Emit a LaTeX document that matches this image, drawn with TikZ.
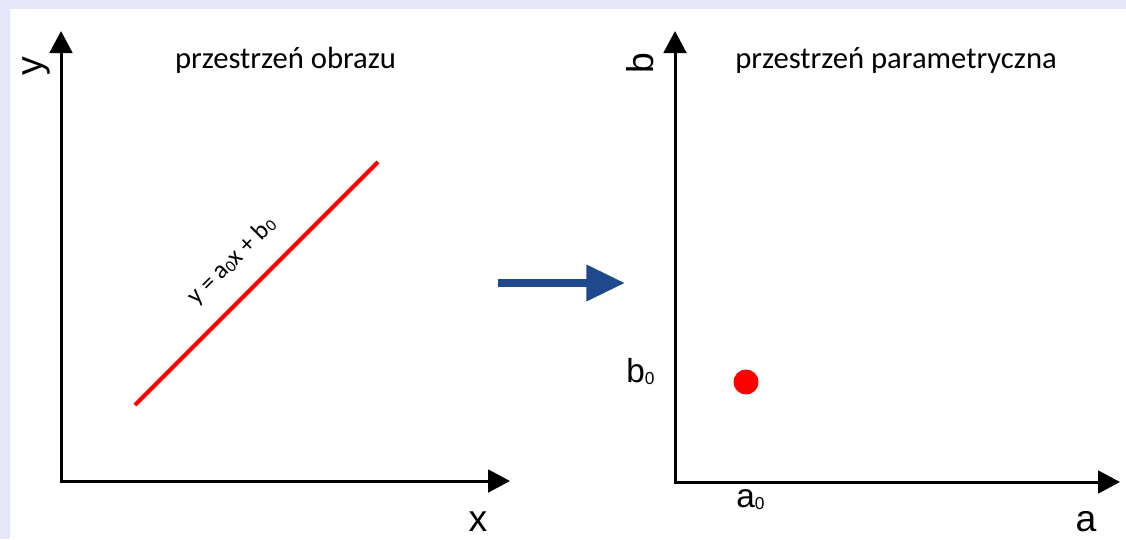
\documentclass[tikz,border=0pt]{standalone}
\usepackage{fontspec}
\setmainfont{Carlito}
\newfontfamily\arialf{Liberation Sans}
\usetikzlibrary{arrows.meta}
\definecolor{lav}{RGB}{230,230,250}
\definecolor{myblue}{RGB}{31,73,140}
\definecolor{myred}{RGB}{255,0,0}
\newcommand{\lowsub}[1]{\raisebox{-2pt}{\fontsize{13}{13}\selectfont #1}}
\newcommand{\eqsub}[1]{\raisebox{-1.2pt}{\fontsize{12.5}{12.5}\selectfont #1}}
\begin{document}
\begin{tikzpicture}[x=0.75pt,y=-0.75pt,
  axis/.style={line width=2.25pt,{Triangle[length=16.5pt,width=17pt]}-{Triangle[length=16.5pt,width=17pt]}},
  axlab/.style={inner sep=0pt,font=\arialf\fontsize{28}{28}\selectfont},
  sublab/.style={inner sep=0pt,anchor=base west,font=\arialf\fontsize{25}{25}\selectfont},
  title/.style={inner sep=0pt,anchor=base,font=\fontsize{23}{24}\selectfont},
  bigarrow/.style={myblue,line width=6pt,-{Triangle[length=29pt,width=26pt]}}]
\useasboundingbox (0,0) rectangle (1126,539);
\fill[lav] (0,0) rectangle (1126,539);
\fill[white] (10,9) rectangle (1126,539);
% left axes
\coordinate (oL) at (61,481);
\coordinate (yL) at (61,31);
\coordinate (xL) at (510,481);
\draw[axis] (yL) -- (oL) -- (xL);
\node[axlab,rotate=90] (ylab) at (36.5,66) {y};
\node[axlab] (xlab) at (478,522) {x};
\node[title] (t1) at (285.5,68) {przestrzeń obrazu};
% red line
\coordinate (l1) at (135,405);
\coordinate (l2) at (378,162);
\draw[myred,line width=3pt] (l1) -- (l2);
\node[inner sep=0pt,rotate=45,font=\fontsize{19}{20}\selectfont] (eq) at (232,261) {y = a\eqsub{0}x + b\eqsub{0}};
% blue arrow
\coordinate (ba1) at (498,283);
\coordinate (ba2) at (625,283);
\draw[bigarrow] (ba1) -- (ba2);
% right axes
\coordinate (oR) at (675,482);
\coordinate (yR) at (675,31);
\coordinate (xR) at (1120,482);
\draw[axis] (yR) -- (oR) -- (xR);
\node[axlab,rotate=90] (blab) at (640,63.5) {b};
\node[axlab] (alab) at (1086,521.5) {a};
\node[title] (t2) at (896,68) {przestrzeń parametryczna};
\node[circle,fill=myred,minimum size=18.75pt,inner sep=0pt] (dot) at (746,382) {};
\node[sublab] (b0) at (626,382) {b\lowsub{0}};
\node[sublab] (a0) at (736,507) {a\lowsub{0}};
\end{tikzpicture}
\end{document}
